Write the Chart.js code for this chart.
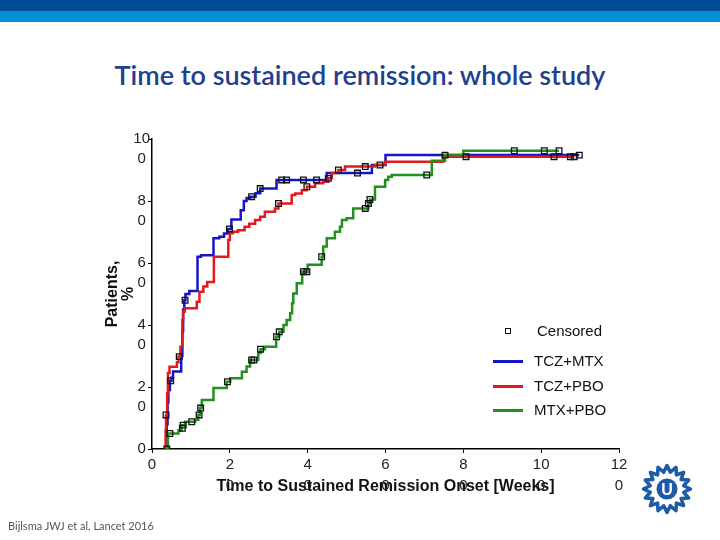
<!DOCTYPE html>
<html>
<head>
<meta charset="utf-8">
<script src="https://cdn.jsdelivr.net/npm/chart.js@4"></script>
<style>
  body { margin: 0; width: 720px; height: 540px; position: relative; overflow: hidden; background: #fff; font-family: "Liberation Sans", Arial, sans-serif; }
  .band-dark { position: absolute; left: 0; top: 0; width: 720px; height: 11px; background: #004a98; }
  .band-light { position: absolute; left: 0; top: 11px; width: 720px; height: 11px; background: #0090d6; }
  h1 { position: absolute; left: 0; top: 58px; width: 720px; margin: 0; text-align: center; font-family: Lato, sans-serif; font-weight: 600; font-size: 27px; color: #1f3f8f; }
  #km { position: absolute; left: 0; top: 0; }
  .leg-row { position: absolute; height: 20px; line-height: 20px; font-size: 15px; color: #111; white-space: nowrap; }
  .leg-line { position: absolute; top: 9px; width: 30px; height: 2.5px; }
  .leg-box { position: absolute; top: 7px; width: 4px; height: 4px; border: 1.5px solid #111; }
  .foot { position: absolute; left: 8px; top: 519px; font-family: Lato, sans-serif; font-size: 11px; color: #555; }
  #logo { position: absolute; left: 639px; top: 461px; }
</style>
</head>
<body>
<div class="band-dark"></div>
<div class="band-light"></div>
<h1>Time to sustained remission: whole study</h1>
<canvas id="km" width="720" height="540"></canvas>
<div id="legend"></div>
<div class="foot">Bijlsma JWJ et al, Lancet 2016</div>
<svg id="logo" width="56" height="56" viewBox="0 0 56 56"></svg>

<script>
// tick labels
const xTicks = [0, 20, 40, 60, 80, 100, 120];
const yTicks = [0, 20, 40, 60, 80, 100];

// TCZ+MTX
const tczMtxWeeks = [3.6, 3.8, 4.0, 4.2, 4.6, 5.0, 5.4, 7.5, 7.8, 8.0, 8.3, 8.6, 9.6, 11.7, 12.6, 15.8, 17.3, 18.5, 19.5, 20.4, 22.8, 23.6, 24.3, 25.2, 26.6, 27.8, 32.0, 44.9, 56.5, 60.0, 109.8];
const tczMtxPct   = [0, 8, 15, 19, 22, 23, 25, 30, 38, 45, 48, 50, 51, 62, 62.5, 68, 68.5, 69.5, 71, 74, 77, 80, 81, 81.4, 82.5, 84, 86.8, 89, 91.6, 94.8, 94.8];
const tczMtxCensWeeks = [4.8, 8.5, 19.9, 25.6, 27.8, 33.3, 34.6, 38.9, 42.3, 52.8, 109.8];
const tczMtxCensPct   = [22, 48, 71, 81.4, 84, 86.8, 86.8, 86.8, 86.8, 89, 94.8];

// TCZ+PBO
const tczPboWeeks = [3.3, 3.5, 3.6, 3.9, 4.1, 4.5, 6.4, 6.8, 7.3, 7.8, 8.0, 8.4, 11.5, 12.2, 13.2, 14.2, 15.9, 19.6, 20.0, 20.8, 22.1, 23.8, 25.0, 26.5, 27.8, 29.0, 31.6, 32.5, 35.9, 36.8, 38.5, 39.8, 41.9, 44.0, 45.3, 46.2, 47.9, 49.6, 57.3, 59.9, 74.8, 108.5];
const tczPboPct   = [0, 6, 11, 18, 24.5, 26.5, 28, 29.8, 33, 41.6, 44.3, 45.4, 47.5, 50.7, 52.4, 53.9, 62, 67.4, 69.6, 70.1, 70.6, 71.7, 72.7, 73.9, 74.9, 76.5, 77.6, 79.2, 81.9, 82.4, 83.5, 84.6, 85.7, 86.2, 87.3, 89, 90, 91.1, 91.6, 92.7, 94.3, 94.3];
const tczPboCensWeeks = [3.6, 7.0, 32.5, 39.8, 45.3, 47.9, 54.8, 58.6, 80.7, 103.3, 107.5, 108.5];
const tczPboCensPct   = [11, 29.8, 79.2, 84.6, 87.3, 90, 91.1, 91.6, 94.3, 94.3, 94.3, 94.3];

// MTX+PBO
const mtxPboWeeks = [3.6, 4.1, 6.8, 7.6, 8.5, 11.1, 11.9, 12.3, 12.8, 15.8, 19.2, 20.1, 23.1, 24.3, 25.2, 27.3, 27.9, 29.0, 31.9, 32.7, 33.8, 34.6, 35.5, 36.0, 36.3, 37.2, 38.6, 40.0, 43.6, 44.0, 44.9, 47.0, 48.3, 48.8, 50.0, 51.7, 55.6, 56.0, 57.3, 59.9, 60.7, 61.6, 71.9, 75.3, 80.0, 104.6];
const mtxPboPct   = [0, 5, 6, 7.7, 8.8, 9.4, 11, 13.2, 15.8, 19.7, 21.7, 22.8, 24.9, 26.6, 28.7, 31, 32.2, 33, 36.2, 37.8, 40, 41.6, 43.8, 47, 50.2, 53.5, 57.2, 59.4, 62, 65.3, 68, 70.1, 71.7, 73.9, 74.4, 77.6, 79.2, 80.5, 84.6, 86.8, 87.8, 88.4, 93, 94.8, 96.2, 96.2];
const mtxPboCensWeeks = [3.8, 4.6, 7.8, 8.0, 10.2, 12.1, 12.5, 19.4, 25.6, 26.2, 27.9, 32.0, 32.7, 38.9, 39.8, 43.6, 54.8, 55.6, 56.0, 70.6, 75.3, 93.1, 100.8, 104.6];
const mtxPboCensPct   = [0, 5, 6.7, 7.7, 8.8, 11, 13.2, 21.7, 28.7, 28.7, 32.2, 36.2, 37.8, 57.2, 57.2, 62, 77.6, 79.2, 80.5, 88.4, 94.8, 96.2, 96.2, 96.2];

const seriesNames  = ['TCZ+MTX', 'TCZ+PBO', 'MTX+PBO'];
const seriesColors = ['#1414c8', '#e31a1c', '#22901e'];

const toPoints = (xs, ys) => xs.map((x, i) => ({ x: x, y: ys[i] }));

function kmLine(i, xs, ys, order) {
  return {
    type: 'line', label: seriesNames[i], data: toPoints(xs, ys),
    borderColor: seriesColors[i], borderWidth: 2.5, stepped: true,
    pointRadius: 0, fill: false, order: order
  };
}

function censored(xs, ys) {
  return {
    type: 'line', label: 'Censored', data: toPoints(xs, ys), showLine: false,
    pointStyle: 'rect', pointRadius: 4, borderColor: '#111', borderWidth: 1.3,
    backgroundColor: 'rgba(255,255,255,0)', order: 0
  };
}

// "100" is drawn as "10" over "0", like the narrow label boxes of the source;
// the first line always sits on the tick
function wrapTick(v) {
  const s = String(v);
  return s.length > 1 ? [s.slice(0, -1), s.slice(-1)] : [s, ''];
}

const font = 'Liberation Sans';

new Chart(document.getElementById('km').getContext('2d'), {
  type: 'line',
  data: {
    datasets: [
      censored(tczMtxCensWeeks, tczMtxCensPct),
      censored(tczPboCensWeeks, tczPboCensPct),
      censored(mtxPboCensWeeks, mtxPboCensPct),
      kmLine(2, mtxPboWeeks, mtxPboPct, 1),
      kmLine(1, tczPboWeeks, tczPboPct, 2),
      kmLine(0, tczMtxWeeks, tczMtxPct, 3)
    ]
  },
  options: {
    responsive: false,
    animation: false,
    devicePixelRatio: 1,
    layout: { padding: { left: 90, right: 101, top: 139, bottom: 44 } },
    plugins: { legend: { display: false }, tooltip: { enabled: false } },
    scales: {
      x: {
        type: 'linear', min: 0, max: 120,
        afterBuildTicks: s => { s.ticks = xTicks.map(v => ({ value: v })); },
        afterFit: s => { s.height = 47; s.paddingLeft = 0; s.paddingRight = 0; },
        border: { display: true, color: '#000', width: 1.5 },
        grid: { drawOnChartArea: false, tickLength: 4, color: '#000' },
        ticks: {
          autoSkip: false, maxRotation: 0, padding: 1, color: '#222',
          font: { family: font, size: 15, lineHeight: 1.4 },
          callback: v => wrapTick(v)
        },
        title: {
          display: true, text: 'Time to Sustained Remission Onset [Weeks]', color: '#111', padding: 0,
          font: { family: font, size: 16, weight: 'bold', lineHeight: 1.2 }
        }
      },
      y: {
        type: 'linear', min: 0, max: 100,
        afterBuildTicks: s => { s.ticks = yTicks.map(v => ({ value: v })); },
        afterFit: s => { s.width = 62; s.paddingTop = 0; s.paddingBottom = 0; },
        border: { display: true, color: '#000', width: 1.5 },
        grid: { drawOnChartArea: false, tickLength: 4, color: '#000' },
        ticks: {
          padding: -2, crossAlign: 'center', labelOffset: 10, color: '#222',
          font: { family: font, size: 15, lineHeight: 1.3 },
          callback: v => wrapTick(v)
        },
        title: {
          display: true, text: ['Patients,', '%'], color: '#111', padding: { top: 15, bottom: 0 },
          font: { family: font, size: 16, weight: 'bold', lineHeight: 1 }
        }
      }
    }
  }
});

// legend inside the plot, bottom right
const legend = document.getElementById('legend');
const cens = document.createElement('div');
cens.className = 'leg-row';
cens.style.left = '505px';
cens.style.top = '321px';
cens.innerHTML = '<span class="leg-box" style="left:0"></span><span style="position:absolute;left:32px">Censored</span>';
legend.appendChild(cens);
const rowTops = [351, 376, 400];
seriesNames.forEach((name, i) => {
  const row = document.createElement('div');
  row.className = 'leg-row';
  row.style.left = '493px';
  row.style.top = rowTops[i] + 'px';
  row.innerHTML = '<span class="leg-line" style="left:0;background:' + seriesColors[i] + '"></span>' +
    '<span style="position:absolute;left:41px">' + name + '</span>';
  legend.appendChild(row);
});

// university logo: zig-zag sun with a U
const logo = document.getElementById('logo');
const pts = [];
for (let k = 0; k < 32; k++) {
  const r = k % 2 ? 17 : 23.5;
  const a = k * Math.PI / 16 - Math.PI / 2;
  pts.push((28 + r * Math.cos(a)).toFixed(1) + ',' + (28 + r * Math.sin(a)).toFixed(1));
}
logo.innerHTML =
  '<polygon points="' + pts.join(' ') + '" fill="none" stroke="#1d5aa8" stroke-width="3.5" stroke-linejoin="round"/>' +
  '<circle cx="28" cy="28" r="10.5" fill="#1d5aa8"/>' +
  '<text x="28" y="34" text-anchor="middle" font-family="Liberation Sans" font-weight="bold" font-size="16" fill="#fff">U</text>';
</script>
</body>
</html>
